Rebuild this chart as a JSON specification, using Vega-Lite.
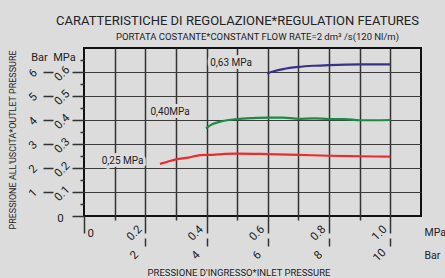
{
  "$schema": "https://vega.github.io/schema/vega-lite/v6.json",
  "width": 337,
  "height": 168,
  "autosize": {"type": "none"},
  "padding": {"left": 84, "top": 48, "right": 24, "bottom": 62},
  "background": "#dcdcdd",
  "config": {
    "font": "Roboto, Liberation Sans, sans-serif",
    "view": {"stroke": "#111111", "strokeWidth": 2, "fill": "#dcdcdd"},
    "axis": {
      "labelColor": "#222222",
      "tickColor": "#333333",
      "tickWidth": 1.5,
      "titleColor": "#222222",
      "labelFontSize": 11.5,
      "titleFontSize": 11,
      "titleFontWeight": "normal",
      "gridColor": "#3a3a3a",
      "gridWidth": 1.2,
      "labelOverlap": false,
      "labelFlush": false
    },
    "text": {"font": "Roboto, Liberation Sans, sans-serif"}
  },
  "datasets": {
    "curves": [
      {"set": "0.25", "inlet": 0.248, "outlet": 0.217},
      {"set": "0.25", "inlet": 0.27, "outlet": 0.225},
      {"set": "0.25", "inlet": 0.3, "outlet": 0.236},
      {"set": "0.25", "inlet": 0.34, "outlet": 0.243},
      {"set": "0.25", "inlet": 0.38, "outlet": 0.254},
      {"set": "0.25", "inlet": 0.42, "outlet": 0.255},
      {"set": "0.25", "inlet": 0.46, "outlet": 0.259},
      {"set": "0.25", "inlet": 0.5, "outlet": 0.26},
      {"set": "0.25", "inlet": 0.6, "outlet": 0.258},
      {"set": "0.25", "inlet": 0.7, "outlet": 0.255},
      {"set": "0.25", "inlet": 0.8, "outlet": 0.251},
      {"set": "0.25", "inlet": 0.9, "outlet": 0.249},
      {"set": "0.25", "inlet": 1.0, "outlet": 0.247},
      {"set": "0.40", "inlet": 0.398, "outlet": 0.365},
      {"set": "0.40", "inlet": 0.42, "outlet": 0.383},
      {"set": "0.40", "inlet": 0.45, "outlet": 0.395},
      {"set": "0.40", "inlet": 0.5, "outlet": 0.404},
      {"set": "0.40", "inlet": 0.55, "outlet": 0.408},
      {"set": "0.40", "inlet": 0.6, "outlet": 0.41},
      {"set": "0.40", "inlet": 0.65, "outlet": 0.41},
      {"set": "0.40", "inlet": 0.7, "outlet": 0.405},
      {"set": "0.40", "inlet": 0.75, "outlet": 0.407},
      {"set": "0.40", "inlet": 0.8, "outlet": 0.404},
      {"set": "0.40", "inlet": 0.85, "outlet": 0.404},
      {"set": "0.40", "inlet": 0.9, "outlet": 0.399},
      {"set": "0.40", "inlet": 0.95, "outlet": 0.399},
      {"set": "0.40", "inlet": 1.0, "outlet": 0.4},
      {"set": "0.63", "inlet": 0.598, "outlet": 0.594},
      {"set": "0.63", "inlet": 0.62, "outlet": 0.603},
      {"set": "0.63", "inlet": 0.65, "outlet": 0.612},
      {"set": "0.63", "inlet": 0.7, "outlet": 0.621},
      {"set": "0.63", "inlet": 0.75, "outlet": 0.626},
      {"set": "0.63", "inlet": 0.8, "outlet": 0.629},
      {"set": "0.63", "inlet": 0.9, "outlet": 0.632},
      {"set": "0.63", "inlet": 1.0, "outlet": 0.632}
    ],
    "labels": [
      {"inlet": 0.48, "outlet": 0.6375, "text": "0,63 MPa"},
      {"inlet": 0.281, "outlet": 0.433, "text": "0,40MPa"},
      {"inlet": 0.126, "outlet": 0.229, "text": "0,25 MPa"}
    ]
  },
  "resolve": {"axis": {"x": "independent", "y": "independent"}},
  "layer": [
    {
      "data": {"name": "labels"},
      "mark": {"type": "point", "opacity": 0},
      "encoding": {
        "x": {
          "field": "inlet", "type": "quantitative",
          "scale": {"domain": [0, 1.1], "nice": false, "zero": false},
          "axis": {
            "orient": "bottom",
            "values": [0.1, 0.2, 0.3, 0.4, 0.5, 0.6, 0.7, 0.8, 0.9, 1.0],
            "grid": true,
            "gridColor": "#333333",
            "gridWidth": 1.5,
            "gridOpacity": 1,
            "labels": false, "ticks": false, "domain": false,
            "title": null
          }
        },
        "y": {
          "field": "outlet", "type": "quantitative",
          "scale": {"domain": [0, 0.7], "nice": false, "zero": false},
          "axis": {
            "orient": "left",
            "values": [0.1, 0.2, 0.3, 0.4, 0.5, 0.6],
            "grid": true,
            "gridColor": "#3a3a3a",
            "labels": false, "ticks": false, "domain": false,
            "title": null
          }
        }
      }
    },
    {
      "data": {"name": "curves"},
      "mark": {"type": "line", "strokeWidth": 2.2, "interpolate": "monotone"},
      "encoding": {
        "x": {
          "field": "inlet", "type": "quantitative",
          "scale": {"domain": [0, 1.1], "nice": false, "zero": false},
          "axis": {
            "orient": "bottom",
            "values": [0, 0.1, 0.2, 0.3, 0.4, 0.5, 0.6, 0.7, 0.8, 0.9, 1.0],
            "grid": false,
            "domain": false,
            "tickSize": {"condition": {"test": "round(datum.value*10) % 2 == 1", "value": 4}, "value": 17},
            "labelExpr": "datum.value > 0 && round(datum.value*10) % 2 == 0 ? format(datum.value, '.1f') : ''",
            "labelAngle": -45,
            "labelAlign": "center",
            "labelBaseline": "middle",
            "labelPadding": 0,
            "labelOffset": -11,
            "title": "MPa",
            "titleX": 340, "titleY": 16,
            "titleFontSize": 10.5,
            "titleAngle": 0, "titleAlign": "left", "titleBaseline": "middle"
          }
        },
        "y": {
          "field": "outlet", "type": "quantitative",
          "scale": {"domain": [0, 0.7], "nice": false, "zero": false},
          "axis": {
            "orient": "left",
            "values": [0, 0.05, 0.1, 0.15, 0.2, 0.25, 0.3, 0.35, 0.4, 0.45, 0.5, 0.55, 0.6, 0.65],
            "grid": false,
            "domain": false,
            "tickSize": {"condition": {"test": "round(datum.value*100) % 10 != 0", "value": 4}, "value": 12},
            "labelExpr": "datum.value > 0 && round(datum.value*100) % 10 == 0 ? format(datum.value, '.1f') : ''",
            "labelAngle": -45,
            "labelAlign": "center",
            "labelBaseline": "middle",
            "labelPadding": 10,
            "labelOffset": 1.5,
            "title": "MPa",
            "titleX": -20, "titleY": 9,
            "titleAngle": 0, "titleAlign": "center", "titleBaseline": "middle"
          }
        },
        "color": {
          "field": "set", "type": "nominal",
          "scale": {"domain": ["0.25", "0.40", "0.63"], "range": ["#ee2b2b", "#1b8a46", "#373384"]},
          "legend": null
        }
      }
    },
    {
      "data": {"name": "labels"},
      "mark": {"type": "text", "fontSize": 10, "fill": "#dcdcdd", "stroke": "#dcdcdd", "strokeWidth": 6, "strokeJoin": "round"},
      "encoding": {
        "x": {
          "field": "inlet", "type": "quantitative",
          "scale": {"domain": [0, 1.1], "nice": false, "zero": false},
          "axis": {
            "orient": "bottom",
            "offset": 22,
            "values": [0.2, 0.4, 0.6, 0.8, 1.0],
            "grid": false,
            "domain": false,
            "tickSize": 8,
            "labelExpr": "format(round(datum.value*10), 'd')",
            "labelAlign": "center",
            "labelBaseline": "middle",
            "labelAngle": -45,
            "labelPadding": 9,
            "labelOffset": -11,
            "title": "Bar",
            "titleX": 340, "titleY": 17,
            "titleFontSize": 10.5,
            "titleAngle": 0, "titleAlign": "left", "titleBaseline": "middle"
          }
        },
        "y": {
          "field": "outlet", "type": "quantitative",
          "scale": {"domain": [0, 0.7], "nice": false, "zero": false},
          "axis": {
            "orient": "left",
            "offset": 31,
            "values": [0.1, 0.2, 0.3, 0.4, 0.5, 0.6],
            "grid": false,
            "domain": false,
            "tickSize": 10,
            "labelExpr": "format(round(datum.value*10), 'd')",
            "labelAlign": "center",
            "labelBaseline": "middle",
            "labelAngle": -45,
            "labelPadding": 10,
            "labelOffset": 1,
            "title": "Bar",
            "titleX": -14, "titleY": 9,
            "titleAngle": 0, "titleAlign": "center", "titleBaseline": "middle"
          }
        },
        "text": {"field": "text"}
      }
    },
    {
      "data": {"name": "labels"},
      "mark": {"type": "text", "fontSize": 10, "fill": "#222222"},
      "encoding": {
        "x": {
          "field": "inlet", "type": "quantitative",
          "scale": {"domain": [0, 1.1], "nice": false, "zero": false},
          "axis": {
            "orient": "bottom",
            "values": [0],
            "labelExpr": "'0'",
            "labelAngle": 0,
            "labelAlign": "left",
            "labelBaseline": "middle",
            "labelPadding": 17,
            "labelOffset": 3,
            "ticks": false, "domain": false, "grid": false,
            "title": "PRESSIONE D'INGRESSO*INLET PRESSURE",
            "titleX": 154.5, "titleY": 56,
            "titleAngle": 0, "titleAlign": "center", "titleBaseline": "middle",
            "titleFontSize": 9.5
          }
        },
        "y": {
          "field": "outlet", "type": "quantitative",
          "scale": {"domain": [0, 0.7], "nice": false, "zero": false},
          "axis": {
            "orient": "left",
            "values": [0],
            "labelExpr": "'0'",
            "labelAngle": 0,
            "labelAlign": "center",
            "labelBaseline": "middle",
            "labelPadding": 24,
            "labelOffset": 2,
            "ticks": false, "domain": false, "grid": false,
            "title": "PRESSIONE ALL'USCITA*OUTLET PRESSURE",
            "titleX": -72, "titleY": 91.5,
            "titleAngle": -90, "titleAlign": "center", "titleBaseline": "middle",
            "titleFontSize": 9
          }
        },
        "text": {"field": "text"}
      }
    },
    {
      "data": {"name": "labels"},
      "mark": {"type": "point", "opacity": 0},
      "encoding": {
        "x": {
          "field": "inlet", "type": "quantitative",
          "scale": {"domain": [0, 1.1], "nice": false, "zero": false},
          "axis": {
            "orient": "top",
            "labels": false, "ticks": false, "domain": false, "grid": false,
            "title": "PORTATA COSTANTE*CONSTANT FLOW RATE=2 dm³ /s(120 Nl/m)",
            "titleX": 173, "titleY": -12,
            "titleAngle": 0, "titleAlign": "center", "titleBaseline": "middle",
            "titleFontSize": 9.5
          }
        },
        "y": {"field": "outlet", "type": "quantitative", "scale": {"domain": [0, 0.7], "nice": false, "zero": false}, "axis": null}
      }
    },
    {
      "data": {"name": "labels"},
      "mark": {"type": "point", "opacity": 0},
      "encoding": {
        "x": {
          "field": "inlet", "type": "quantitative",
          "scale": {"domain": [0, 1.1], "nice": false, "zero": false},
          "axis": {
            "orient": "top",
            "labels": false, "ticks": false, "domain": false, "grid": false,
            "title": "CARATTERISTICHE DI REGOLAZIONE*REGULATION FEATURES",
            "titleX": 153, "titleY": -28,
            "titleAngle": 0, "titleAlign": "center", "titleBaseline": "middle",
            "titleFontSize": 13
          }
        },
        "y": {"field": "outlet", "type": "quantitative", "scale": {"domain": [0, 0.7], "nice": false, "zero": false}, "axis": null}
      }
    }
  ]
}
